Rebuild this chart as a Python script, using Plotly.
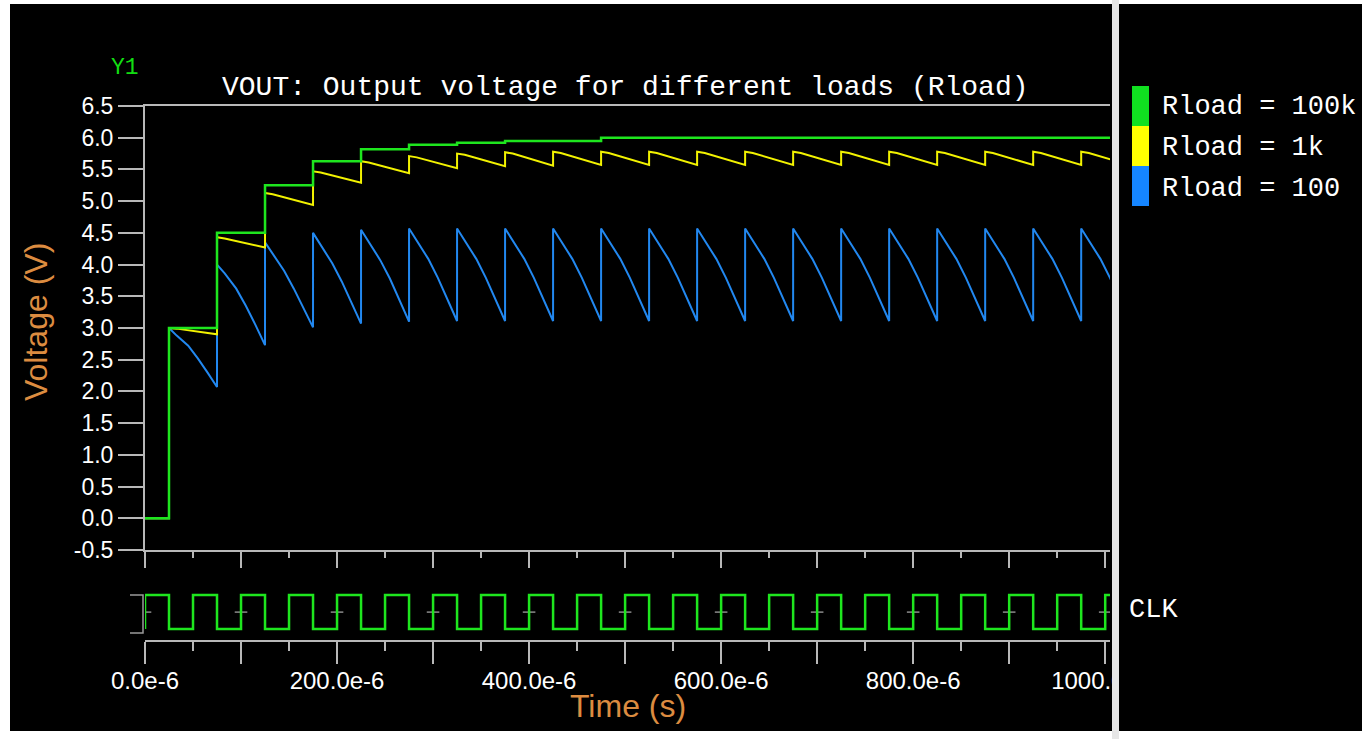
import plotly.graph_objects as go

W, H = 1368, 739

# ---------------- data (time in microseconds) ----------------
edge_us = [25, 75, 125, 175, 225, 275, 325, 375, 425, 475,
           525, 575, 625, 675, 725, 775, 825, 875, 925, 975]

# Rload = 100k : staircase levels (held until next change)
green_t_us = [0, 25, 75, 125, 175, 225, 275, 325, 375, 475, 1005]
green_v = [0.0, 3.00, 4.50, 5.25, 5.63, 5.82, 5.89, 5.92, 5.95, 6.00, 6.00]

# Rload = 1k : per clock cycle values at offsets after each edge
yellow_offsets_us = [0, 8, 50]
yellow_cycles = [
    [3.00, 2.99, 2.90],
    [4.43, 4.41, 4.27],
    [5.13, 5.11, 4.94],
    [5.47, 5.45, 5.29],
    [5.63, 5.61, 5.44],
    [5.71, 5.69, 5.52],
    [5.75, 5.73, 5.55],
    [5.77, 5.75, 5.56],
    [5.78, 5.76, 5.57],
    [5.78, 5.76, 5.57],
    [5.78, 5.76, 5.57],
    [5.78, 5.76, 5.57],
    [5.78, 5.76, 5.57],
    [5.78, 5.76, 5.57],
    [5.78, 5.76, 5.57],
    [5.78, 5.76, 5.57],
    [5.78, 5.76, 5.57],
    [5.78, 5.76, 5.57],
    [5.78, 5.76, 5.57],
    [5.78, 5.76, 5.57],
]

# Rload = 100 : per clock cycle values at offsets after each edge
blue_offsets_us = [0, 8, 20, 30, 40, 50]
blue_cycles = [
    [3.00, 2.88, 2.72, 2.52, 2.30, 2.07],
    [4.00, 3.86, 3.62, 3.35, 3.05, 2.73],
    [4.35, 4.17, 3.90, 3.62, 3.32, 3.01],
    [4.50, 4.31, 4.02, 3.73, 3.40, 3.07],
    [4.55, 4.36, 4.07, 3.78, 3.44, 3.10],
    [4.57, 4.38, 4.09, 3.79, 3.45, 3.11],
    [4.57, 4.38, 4.09, 3.79, 3.45, 3.11],
    [4.57, 4.38, 4.09, 3.79, 3.45, 3.11],
    [4.57, 4.38, 4.09, 3.79, 3.45, 3.11],
    [4.57, 4.38, 4.09, 3.79, 3.45, 3.11],
    [4.57, 4.38, 4.09, 3.79, 3.45, 3.11],
    [4.57, 4.38, 4.09, 3.79, 3.45, 3.11],
    [4.57, 4.38, 4.09, 3.79, 3.45, 3.11],
    [4.57, 4.38, 4.09, 3.79, 3.45, 3.11],
    [4.57, 4.38, 4.09, 3.79, 3.45, 3.11],
    [4.57, 4.38, 4.09, 3.79, 3.45, 3.11],
    [4.57, 4.38, 4.09, 3.79, 3.45, 3.11],
    [4.57, 4.38, 4.09, 3.79, 3.45, 3.11],
    [4.57, 4.38, 4.09, 3.79, 3.45, 3.11],
    [4.57, 4.38, 4.09, 3.79, 3.45, 3.11],
]

# clock: level changes (held until next change)
clk_t_us = [0, 0, 25, 50, 75, 100, 125, 150, 175, 200, 225, 250, 275, 300, 325,
            350, 375, 400, 425, 450, 475, 500, 525, 550, 575, 600, 625, 650,
            675, 700, 725, 750, 775, 800, 825, 850, 875, 900, 925, 950, 975,
            1000, 1005]
clk_v = [0, 1, 0, 1, 0, 1, 0, 1, 0, 1, 0, 1, 0, 1, 0, 1, 0, 1, 0, 1, 0, 1,
         0, 1, 0, 1, 0, 1, 0, 1, 0, 1, 0, 1, 0, 1, 0, 1, 0, 1, 0, 1, 1]
clk_marks_us = [0, 100, 200, 300, 400, 500, 600, 700, 800, 900, 1000]

x_major = [0, 100, 200, 300, 400, 500, 600, 700, 800, 900, 1000]
x_labels = ["0.0e-6", "", "200.0e-6", "", "400.0e-6", "", "600.0e-6", "",
            "800.0e-6", "", "1000.0e-6"]
y_ticks = [-0.5, 0.0, 0.5, 1.0, 1.5, 2.0, 2.5, 3.0, 3.5, 4.0, 4.5, 5.0, 5.5, 6.0, 6.5]
y_labels = ["-0.5", "0.0", "0.5", "1.0", "1.5", "2.0", "2.5", "3.0", "3.5",
            "4.0", "4.5", "5.0", "5.5", "6.0", "6.5"]

series_names = ["Rload = 100k", "Rload = 1k", "Rload = 100"]
series_colors = ["#1EE61E", "#F2F200", "#2288F0"]
legend_colors = ["#10E020", "#FFFF00", "#1585FF"]

# ---------------- build trace coordinates ----------------
def cycles_to_xy(offsets, cycles):
    xs, ys = [0, edge_us[0]], [0.0, 0.0]
    for e, vals in zip(edge_us, cycles):
        for o, v in zip(offsets, vals):
            xs.append(e + o)
            ys.append(v)
    return xs, ys

yx, yy = cycles_to_xy(yellow_offsets_us, yellow_cycles)
bx, by = cycles_to_xy(blue_offsets_us, blue_cycles)

def fx(p):
    return p / W

def fy(p):
    return 1 - p / H

AX = "#B8B8B8"
ORANGE = "#DC8C40"

fig = go.Figure()
fig.add_trace(go.Scatter(x=bx, y=by, mode="lines", name=series_names[2],
                         line=dict(color=series_colors[2], width=2), showlegend=False))
fig.add_trace(go.Scatter(x=yx, y=yy, mode="lines", name=series_names[1],
                         line=dict(color=series_colors[1], width=2), showlegend=False))
fig.add_trace(go.Scatter(x=green_t_us, y=green_v, mode="lines", name=series_names[0],
                         line=dict(color=series_colors[0], width=2.5, shape="hv"),
                         showlegend=False))
fig.add_trace(go.Scatter(x=clk_marks_us, y=[0.5] * len(clk_marks_us), mode="markers",
                         marker=dict(symbol="line-ew", size=9,
                                     line=dict(color="#8A8A8A", width=1.5)),
                         xaxis="x2", yaxis="y2", showlegend=False, hoverinfo="skip"))
fig.add_trace(go.Scatter(x=clk_t_us, y=clk_v, mode="lines", name="CLK",
                         line=dict(color="#1EE61E", width=2.5, shape="hv"),
                         xaxis="x2", yaxis="y2", showlegend=False))

xdom = [fx(145), fx(1110)]
fig.update_layout(
    width=W, height=H, autosize=False,
    margin=dict(l=0, r=0, t=0, b=0, pad=0, autoexpand=False),
    paper_bgcolor="white",
    plot_bgcolor="black",
    showlegend=False,
    xaxis=dict(domain=xdom, range=[0, 1005], anchor="y", automargin=False,
               showline=True, linecolor=AX, linewidth=2, mirror=True,
               tickmode="array", tickvals=x_major, showticklabels=False,
               ticks="outside", ticklen=16, tickwidth=1.5, tickcolor=AX,
               minor=dict(dtick=50, tick0=0, ticks="outside", ticklen=6,
                          tickwidth=1.5, tickcolor=AX),
               showgrid=False, zeroline=False),
    yaxis=dict(domain=[fy(550), fy(106)], range=[-0.5, 6.5], anchor="x", automargin=False,
               showline=True, linecolor=AX, linewidth=2,
               tickmode="array", tickvals=y_ticks, ticktext=y_labels,
               ticks="outside", ticklen=25, tickwidth=2, tickcolor=AX,
               tickfont=dict(family="Liberation Sans, Arial", size=23, color="white"),
               showgrid=False, zeroline=False),
    xaxis2=dict(domain=xdom, range=[0, 1005], anchor="y2", matches="x", automargin=False,
                showline=True, linecolor=AX, linewidth=2,
                tickmode="array", tickvals=x_major, ticktext=x_labels,
                ticks="outside", ticklen=22, tickwidth=1.5, tickcolor=AX,
                ticklabelstandoff=-4,
                minor=dict(dtick=50, tick0=0, ticks="outside", ticklen=9,
                           tickwidth=1.5, tickcolor=AX),
                tickfont=dict(family="Liberation Sans, Arial", size=24, color="white"),
                showgrid=False, zeroline=False),
    yaxis2=dict(domain=[fy(640), fy(590)], range=[-0.32, 1.15], anchor="x2", automargin=False,
                visible=False, showgrid=False, zeroline=False),
)

shapes = [
    # black canvas inside white frame
    dict(type="rect", xref="paper", yref="paper", layer="below",
         x0=fx(10), x1=fx(1362), y0=fy(731), y1=fy(4),
         fillcolor="black", line=dict(width=0)),
    # cover tick-label overflow right of plot
    dict(type="rect", xref="paper", yref="paper", layer="above",
         x0=fx(1112), x1=fx(1362), y0=fy(705), y1=fy(655),
         fillcolor="black", line=dict(width=0)),
    # vertical separator bar
    dict(type="rect", xref="paper", yref="paper", layer="above",
         x0=fx(1112), x1=fx(1119), y0=0, y1=1,
         fillcolor="#E6E6E6", line=dict(width=0)),
    # clock range bracket
    dict(type="path", xref="paper", yref="paper", layer="above",
         path=f"M {fx(130)},{fy(595)} L {fx(143)},{fy(595)} L {fx(143)},{fy(633)} L {fx(130)},{fy(633)}",
         line=dict(color="#9A9A9A", width=1.5)),
]
# legend swatches
for i, c in enumerate(legend_colors):
    shapes.append(dict(type="rect", xref="paper", yref="paper", layer="above",
                       x0=fx(1132), x1=fx(1149), y0=fy(86 + 40 * (i + 1)), y1=fy(86 + 40 * i),
                       fillcolor=c, line=dict(width=0)))
fig.update_layout(shapes=shapes)

MONO = "Liberation Mono, Courier New, monospace"
ann = [
    dict(text="VOUT: Output voltage for different loads (Rload)", x=fx(625), y=fy(87),
         xanchor="center", yanchor="middle", font=dict(family=MONO, size=28, color="white")),
    dict(text="Y1", x=fx(125), y=fy(68), xanchor="center", yanchor="middle",
         font=dict(family=MONO, size=23, color="#12DD12")),
    dict(text="Voltage (V)", x=fx(36), y=fy(322), textangle=-90,
         xanchor="center", yanchor="middle",
         font=dict(family="Liberation Sans Narrow, Liberation Sans, Arial", size=32, color=ORANGE)),
    dict(text="Time (s)", x=fx(628), y=fy(706), xanchor="center", yanchor="middle",
         font=dict(family="Liberation Sans Narrow, Liberation Sans, Arial", size=32, color=ORANGE)),
    dict(text="CLK", x=fx(1127), y=fy(610), xanchor="left", yanchor="middle",
         font=dict(family=MONO, size=27, color="white")),
]
for i, nm in enumerate(series_names):
    ann.append(dict(text=nm, x=fx(1160), y=fy(107 + 41 * i), xanchor="left", yanchor="middle",
                    font=dict(family=MONO, size=27, color="white")))
for a in ann:
    a.update(xref="paper", yref="paper", showarrow=False)
fig.update_layout(annotations=ann)

fig.write_html("out.html", config={"displayModeBar": False})
